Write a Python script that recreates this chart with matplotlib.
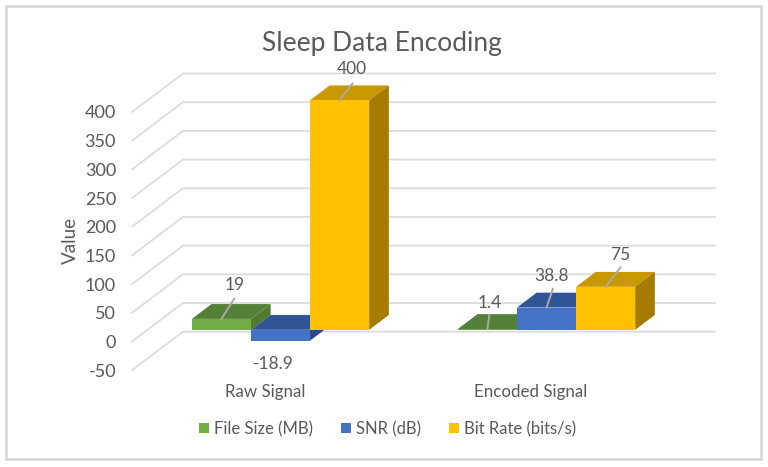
import matplotlib
matplotlib.use("Agg")
import matplotlib.pyplot as plt
from matplotlib.patches import Polygon, Rectangle

categories = ["Raw Signal", "Encoded Signal"]
file_size = [19, 1.4]
snr = [-18.9, 38.8]
bit_rate = [400, 75]
series_names = ["File Size (MB)", "SNR (dB)", "Bit Rate (bits/s)"]
y_ticks = [-50, 0, 50, 100, 150, 200, 250, 300, 350, 400]

W, H = 768, 467
TEXT = "#595959"
GRID = "#dcdcdc"
plt.rcParams["font.family"] = ["Lato", "DejaVu Sans"]
plt.rcParams["axes.unicode_minus"] = False

fig = plt.figure(figsize=(W / 100, H / 100), dpi=100, facecolor="white")
# Frame around the chart
fig.add_artist(Rectangle((6 / W, 1 - 459 / H), 755 / W, 453 / H, transform=fig.transFigure,
                         fill=False, ec="#d9d9d9", lw=2.0))

# Axes = the front plane of the 3-D box
L, R, T, B = 132, 664, 112, 370.2
ax = fig.add_axes([L / W, 1 - B / H, (R - L) / W, (B - T) / H])
ax.set_xlim(0, 2)
ax.set_ylim(-50, 400)
ax.patch.set_alpha(0)
for s in ax.spines.values():
    s.set_visible(False)

# Depth offset for the whole box, in data units
DEPTH_X = 51 / ((R - L) / 2)
DEPTH_Y = 38.5 / ((B - T) / 450)


def shift(x, v, d):
    return x + d * DEPTH_X, v + d * DEPTH_Y


# Back and side wall gridlines
for v in y_ticks:
    x0, y0 = shift(0, v, 0)
    x1, y1 = shift(0, v, 1)
    x2, y2 = shift(2, v, 1)
    ax.plot([x0, x1, x2], [y0, y1, y2], color=GRID, lw=1.3, clip_on=False, zorder=1,
            solid_joinstyle="miter")

# Bars
colors = [("#70AD47", "#54803a", "#4f7a30"),
          ("#4472C4", "#2f5597", "#284a85"),
          ("#FFC000", "#c99700", "#a67c00")]
D_FRONT, D_BACK = 0.304, 0.69
BAR_W = 1 / 4.5
all_series = [file_size, snr, bit_rate]
containers = []
z = 2
for c in range(len(categories)):
    for i, vals in enumerate(all_series):
        v = vals[c]
        xc = c + 0.5 + (i - 1) * BAR_W
        front, top, side = colors[i]
        xf, base = shift(xc, 0, D_FRONT)
        bar = ax.bar(xf, v, BAR_W, bottom=base, color=front, zorder=z + 0.2, clip_on=False, lw=0,
                     label=series_names[i] if c == 0 else None)
        if c == 0:
            containers.append(bar)
        hi = max(v, 0)
        lo = min(v, 0)
        xl, xr = xc - BAR_W / 2, xc + BAR_W / 2
        top_pts = [shift(xl, hi, D_FRONT), shift(xr, hi, D_FRONT), shift(xr, hi, D_BACK), shift(xl, hi, D_BACK)]
        side_pts = [shift(xr, lo, D_FRONT), shift(xr, hi, D_FRONT), shift(xr, hi, D_BACK), shift(xr, lo, D_BACK)]
        ax.add_patch(Polygon(top_pts, closed=True, fc=top, lw=0, zorder=z, clip_on=False))
        ax.add_patch(Polygon(side_pts, closed=True, fc=side, lw=0, zorder=z + 0.1, clip_on=False))
        z += 1

# Data labels with leader lines: (leader end offset, label centre offset), in pixels
offsets = {(0, 0): ((13, 20.5), (13, 34)), (0, 1): (None, (-7, -23)), (0, 2): ((13, 17), (12, 31)),
           (1, 0): ((2, 14.5), (2, 26)), (1, 1): ((6.5, 19), (5.5, 31.5)), (1, 2): ((15, 19.5), (15, 32))}
PX = 0.72
for (c, i), (lead, lab) in offsets.items():
    v = all_series[i][c]
    xc = c + 0.5 + (i - 1) * BAR_W
    xf, yf = shift(xc, v, D_FRONT)
    if lead:
        ax.annotate("", xy=(xf, yf), xytext=(lead[0] * PX, lead[1] * PX), textcoords="offset points",
                    xycoords="data", zorder=50, annotation_clip=False,
                    arrowprops=dict(arrowstyle="-", color="#a9a9a9", lw=1.4, shrinkA=0, shrinkB=0))
    ax.annotate(str(v), xy=(xf, yf), xytext=(lab[0] * PX, lab[1] * PX), textcoords="offset points",
                ha="center", va="center", fontsize=12.5, color=TEXT, zorder=51, annotation_clip=False)

# Real axis ticks and labels
ax.set_yticks(y_ticks)
ax.set_xticks([0.5, 1.5], categories)
ax.tick_params(axis="y", length=0, pad=11.5, labelsize=13, labelcolor=TEXT)
ax.tick_params(axis="x", length=0, pad=10, labelsize=12.2, labelcolor=TEXT)

ax.set_ylabel("Value", fontsize=13.5, color=TEXT)
ax.yaxis.set_label_coords((78.5 - L) / (R - L), (B - 240) / (B - T))
ax.set_title("Sleep Data Encoding", fontsize=19, color=TEXT, x=(382 - L) / (R - L),
             y=(B - 43) / (B - T), va="center", pad=0)

ax.legend(handles=containers, ncol=3, frameon=False, loc="center",
          bbox_to_anchor=(387.5 / W, 1 - 429 / H), bbox_transform=fig.transFigure,
          fontsize=12, labelcolor=TEXT, handlelength=0.6, handleheight=0.6,
          handletextpad=0.3, columnspacing=1.7)

fig.savefig("out.png", dpi=100)
